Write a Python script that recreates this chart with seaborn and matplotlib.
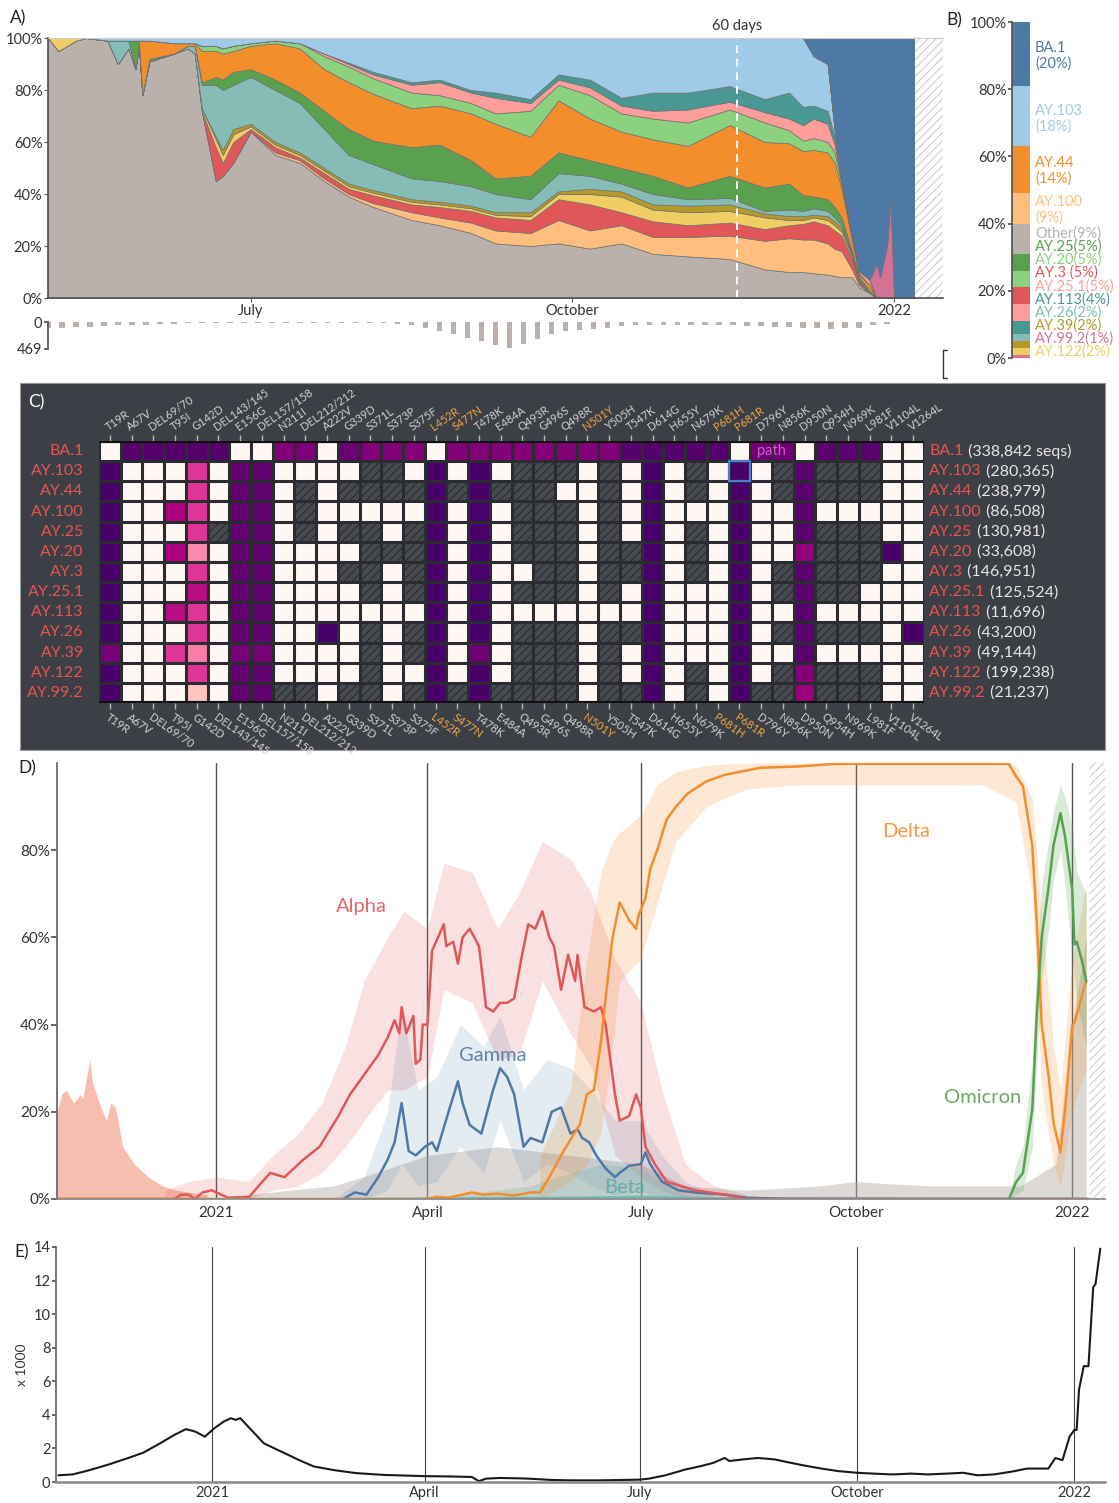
import numpy as np
import pandas as pd
import matplotlib
matplotlib.use("Agg")
import matplotlib.pyplot as plt
import matplotlib.dates as mdates
from matplotlib.patches import Rectangle
from matplotlib.lines import Line2D
import seaborn as sns

sns.set_theme(style="white")
plt.rcParams["font.family"] = ["Lato", "DejaVu Sans"]
plt.rcParams["hatch.linewidth"] = 0.7

W, H = 1119, 1503

# ---------------- data: panel A (lineage share, %) ----------------
a_dates = ["2021-05-04", "2021-05-07", "2021-05-12", "2021-05-15", "2021-05-21", "2021-05-24",
           "2021-05-27", "2021-05-29", "2021-05-30", "2021-05-31", "2021-06-02", "2021-06-09",
           "2021-06-13", "2021-06-15", "2021-06-17", "2021-06-21", "2021-06-23", "2021-06-26",
           "2021-07-01", "2021-07-08", "2021-07-15", "2021-07-22", "2021-07-29", "2021-08-05",
           "2021-08-16", "2021-08-24", "2021-09-02", "2021-09-09", "2021-09-19", "2021-09-27",
           "2021-10-06", "2021-10-15", "2021-10-24", "2021-11-03", "2021-11-15", "2021-11-25",
           "2021-12-02", "2021-12-06", "2021-12-09", "2021-12-13", "2021-12-15", "2021-12-17",
           "2021-12-20", "2021-12-22", "2021-12-25", "2021-12-27", "2021-12-28", "2021-12-30",
           "2021-12-31", "2022-01-01", "2022-01-07"]
share_other = [100, 95, 99, 100, 99, 90, 96, 88, 97, 78, 91, 94, 96, 94, 72, 45, 47, 52, 64, 55,
               52, 45, 39, 35, 30, 28, 25, 21, 20, 21, 19, 21, 17, 16, 15, 11, 10, 10, 9.5, 9,
               8.5, 8, 8, 4, 2, 0, 0, 0, 0, 0, 0]
share_ay100 = [0, 0, 0, 0, 0, 0, 0, 0, 0, 0, 0, 0, 0, 0, 0, 0, 0, 0, 0, 1,
               1, 1, 1, 1.5, 3, 3, 4, 5, 5, 9, 7, 7, 6.5, 7.5, 9, 11, 13, 12.5, 13, 12,
               10.5, 10, 3, 1, 0, 0, 0, 0, 0, 0, 0]
share_ay3 = [0, 0, 0, 0, 0, 0, 0, 0, 0, 0, 0, 0, 0, 0, 0, 13, 5, 8, 1, 2,
             1, 2, 2, 3, 3, 4, 4.5, 5, 5, 8, 10, 5, 6, 4.5, 5, 4.5, 5, 6, 7, 7,
             7, 6, 4, 1, 0, 0, 0, 0, 0, 0, 0]
share_ay122 = [0, 5, 1, 0, 0, 0, 0, 0, 0, 0, 0, 0, 0, 0, 1, 3, 3, 3, 1, 1,
               1, 1, 1, 1, 1, 1, 1, 1, 1.5, 2, 4, 6, 4.5, 5, 4.5, 4.5, 2, 1.5, 1.5, 2,
               2, 1.5, 1, 0.5, 0, 0, 0, 0, 0, 0, 0]
share_ay39 = [0, 0, 0, 0, 0, 0, 0, 0, 0, 0, 0, 0, 0, 0, 0, 1, 2, 2, 1, 1,
              1, 1, 1, 1, 1, 1, 1, 1, 1.5, 1, 2, 2, 2, 2.5, 2.5, 1.5, 1.5, 1.5, 1, 1.5,
              1.5, 1.5, 0.5, 0.5, 0, 0, 0, 0, 0, 0, 0]
share_ay26 = [0, 0, 0, 0, 0, 9, 3, 0, 0, 0, 0, 0, 1, 3, 9, 20, 23, 17, 18, 20,
              19, 15, 11, 10, 8, 8, 7.5, 7, 5, 7, 5, 3, 4, 2.5, 2.5, 1, 2.5, 2, 2.5, 2,
              1.5, 1, 0.5, 0, 0, 0, 0, 0, 0, 0, 0]
share_ay25 = [0, 0, 0, 0, 0, 0, 0, 11, 2, 0, 1, 0, 0, 0, 1, 3, 4, 5, 3, 4,
              4, 7, 10, 9, 12, 14, 10, 6, 9, 8, 6, 6, 7, 4.5, 8.5, 9, 10, 6, 4.5, 4.5,
              4, 3, 1, 1, 1, 0, 0, 0, 0, 0, 0]
share_ay44 = [0, 0, 0, 0, 0, 0, 0, 0, 0, 21, 7, 4, 1, 1, 12, 10, 10, 8, 9, 14,
              17, 16, 18, 18, 15, 15, 18, 21, 15, 20, 16, 14, 14, 16, 19.5, 17.5, 15.5, 17, 18, 18,
              17, 11, 4, 1, 2, 0, 0, 0, 0, 0, 0]
share_ay20 = [0, 0, 0, 0, 0, 0, 0, 0, 0, 0, 0, 0, 0, 0, 2, 2, 2, 2, 1, 1,
              2, 5, 6, 6, 6, 4, 4, 4, 10, 6, 9, 7, 8, 9, 6, 7.5, 5, 4, 4.5, 4,
              4, 1.5, 1, 0.5, 0, 0, 0, 0, 0, 0, 0]
share_ay251 = [0, 0, 0, 0, 0, 0, 0, 0, 0, 0, 0, 0, 0, 0, 0, 0, 0, 0, 0, 0,
               0, 1, 1, 1.5, 3, 5, 4, 6, 3, 2, 3, 3, 3, 5, 3, 4, 4.5, 6, 7.5, 7,
               3, 1, 0.6, 1, 2, 0, 0, 0, 0, 0, 0]
share_ay113 = [0, 0, 0, 0, 0, 0, 0, 0, 0, 0, 0, 0, 0, 0, 0, 0, 0, 0, 0, 0,
               0, 0, 0.5, 1, 1, 1, 1, 2, 1.5, 2, 3, 3, 7, 6.5, 6, 5, 10, 7, 5, 5,
               3, 0.5, 0, 0, 0, 0, 0, 0, 0, 0, 0]
share_ay103 = [0, 0, 0, 0, 1, 1, 1, 1, 1, 1, 1, 2, 2, 2, 3, 3, 4, 3, 2, 1,
               2, 6, 9.5, 13, 17, 16, 20, 21, 23.5, 14, 16, 23, 21, 21, 18.5, 23.5, 21, 26.5, 19, 18,
               2.6, 0.5, 0, 0, 0, 0, 0, 0, 0, 0, 0]
share_ay992 = [0, 0, 0, 0, 0, 0, 0, 0, 0, 0, 0, 0, 0, 0, 0, 0, 0, 0, 0, 0,
               0, 0, 0, 0, 0, 0, 0, 0, 0, 0, 0, 0, 0, 0, 0, 0, 0, 0, 0, 0,
               0, 0, 0, 0, 0, 13, 8, 20, 38, 0, 0]
share_ba1 = [0, 0, 0, 0, 0, 0, 0, 0, 0, 0, 0, 0, 0, 0, 0, 0, 0, 0, 0, 0,
             0, 0, 0, 0, 0, 0, 0, 0, 0, 0, 0, 0, 0, 0, 0, 0, 0, 0, 7, 10,
             35.4, 54.5, 76.4, 89.5, 93, 87, 92, 80, 62, 100, 100]

stack_names = ["Other", "AY.100", "AY.3", "AY.122", "AY.39", "AY.26", "AY.25", "AY.44",
               "AY.20", "AY.25.1", "AY.113", "AY.103", "AY.99.2", "BA.1"]
colors = {"Other": "#bab0ac", "AY.100": "#ffbe7d", "AY.3": "#e15759", "AY.122": "#f1ce63",
          "AY.39": "#b6992d", "AY.26": "#86bcb6", "AY.25": "#59a14f", "AY.44": "#f28e2b",
          "AY.20": "#8cd17d", "AY.25.1": "#ff9d9a", "AY.113": "#499894", "AY.103": "#a0cbe8",
          "AY.99.2": "#d37295", "BA.1": "#4e79a7"}

# daily sequence counts (every 4th day from 2021-05-04)
seq_counts = [110, 100, 90, 80, 70, 60, 55,
              45, 35, 30, 25, 20, 15, 15, 10,
              12, 15, 10, 15, 10, 12, 15, 20,
              20, 25, 30, 60, 110, 150, 200,
              280, 330, 400, 460, 380, 300, 200, 150,
              140, 120, 100, 70, 60, 55, 50, 55,
              50, 60, 55, 60, 65, 70, 80,
              90, 100, 110, 120, 110, 100, 60, 40]

# ---------------- panel B ----------------
b_names = ["AY.99.2", "AY.122", "AY.39", "AY.26", "AY.113", "AY.25.1", "AY.3", "AY.20",
           "AY.25", "Other", "AY.100", "AY.44", "AY.103", "BA.1"]
b_values = [1, 2, 2, 2, 4, 5, 5, 5, 5, 9, 9, 14, 18, 20]

# ---------------- panel C (mutation frequency) ----------------
mutations = ["T19R", "A67V", "DEL69/70", "T95I", "G142D", "DEL143/145", "E156G", "DEL157/158",
             "N211I", "DEL212/212", "A222V", "G339D", "S371L", "S373P", "S375F", "L452R", "S477N",
             "T478K", "E484A", "Q493R", "G496S", "Q498R", "N501Y", "Y505H", "T547K", "D614G",
             "H655Y", "N679K", "P681H", "P681R", "D796Y", "N856K", "D950N", "Q954H", "N969K",
             "L981F", "V1104L", "V1264L"]
highlight = ["L452R", "S477N", "N501Y", "P681H", "P681R"]
n = np.nan
lineages = ["BA.1", "AY.103", "AY.44", "AY.100", "AY.25", "AY.20", "AY.3", "AY.25.1", "AY.113",
            "AY.26", "AY.39", "AY.122", "AY.99.2"]
seq_totals = ["338,842 seqs", "280,365", "238,979", "86,508", "130,981", "33,608", "146,951",
              "125,524", "11,696", "43,200", "49,144", "199,238", "21,237"]
freq_ba1 = [0, .97, .97, .97, .97, .97, 0, 0, .85, .87, 0, .92, .85, .85, .85, 0, .85, .85, .85,
            .85, .85, .85, .85, .85, .96, .97, .97, .97, .97, 0, .9, .9, 0, .95, .95, .95, 0, 0]
freq_ay103 = [1, 0, 0, 0, .62, 0, .93, .93, 0, 0, 0, 0, n, n, 0, 1, 0, 1, 0, n, n, n, 0, n, 0, 1,
              0, n, 0, 1, 0, n, .95, n, n, n, 0, 0]
freq_ay44 = [1, 0, 0, 0, .62, 0, .93, .93, 0, n, 0, n, n, n, n, 1, n, 1, n, n, n, 0, 0, n, 0, 1,
             0, n, 0, 1, 0, n, .95, n, n, n, 0, 0]
freq_ay100 = [1, 0, 0, .75, .62, 0, .93, .93, 0, n, 0, 0, 0, 0, 0, 1, 0, 1, 0, n, n, n, 0, n, 0, 1,
              0, 0, 0, 1, 0, 0, .95, 0, 0, 0, 0, 0]
freq_ay25 = [1, 0, 0, 0, .62, n, .93, .93, 0, n, 0, n, n, 0, n, 1, 0, 1, 0, n, n, n, 0, n, 0, 1,
             0, n, 0, 1, 0, 0, .95, n, n, n, 0, 0]
freq_ay20 = [1, 0, 0, .75, .42, 0, .93, .93, 0, 0, 0, 0, n, n, n, 1, 0, 1, 0, n, n, n, 0, n, n, 1,
             0, n, 0, 1, 0, 0, .82, n, n, n, 1, 0]
freq_ay3 = [1, 0, 0, 0, .62, 0, .93, .93, 0, 0, 0, n, n, 0, n, 1, 0, 1, 0, 0, n, n, 0, n, n, 1,
            0, n, 0, 1, 0, n, .95, n, n, n, 0, 0]
freq_ay251 = [1, 0, 0, 0, .72, 0, .93, .93, 0, 0, 0, 0, n, 0, n, 1, 0, 1, 0, n, n, n, 0, n, 0, 1,
              0, 0, 0, 1, 0, n, .95, n, n, 0, 0, 0]
freq_ay113 = [1, 0, 0, .72, .62, 0, .93, .93, 0, 0, 0, 0, 0, 0, 0, 1, 0, 1, 0, 0, 0, 0, 0, 0, 0, 1,
              0, 0, 0, 1, 0, 0, .95, 0, 0, 0, 0, 0]
freq_ay26 = [1, 0, 0, 0, .62, 0, .93, .93, 0, 0, 1, 0, n, 0, n, 1, 0, 1, 0, n, n, n, 0, n, n, 1,
             0, 0, 0, 1, 0, n, .95, n, n, n, 0, 1]
freq_ay39 = [.88, 0, 0, .62, .45, 0, .88, .88, 0, 0, 0, 0, n, 0, n, 1, 0, .9, 0, n, n, n, 0, n, 0, 1,
             0, 0, 0, 1, 0, 0, .95, 0, 0, 0, 0, 0]
freq_ay122 = [1, 0, 0, 0, .62, 0, .93, .93, 0, 0, 0, 0, n, 0, 0, 1, 0, 1, 0, n, n, n, 0, n, 0, 1,
              0, n, 0, 1, 0, n, .85, n, n, n, 0, 0]
freq_ay992 = [1, 0, 0, 0, .25, 0, .93, .93, n, n, 0, n, n, 0, n, 1, n, 1, n, n, n, n, 0, n, n, 1,
              0, n, 0, 1, n, n, .8, n, n, n, 0, 0]

# ---------------- panel D (VOC share, %) ----------------
early_dates = ["2020-10-25", "2020-10-27", "2020-10-29", "2020-11-01", "2020-11-04", "2020-11-05",
               "2020-11-08", "2020-11-09", "2020-11-12", "2020-11-15", "2020-11-17", "2020-11-19",
               "2020-11-22", "2020-11-27", "2020-12-03", "2020-12-09", "2020-12-15", "2020-12-21",
               "2020-12-28"]
early_upper = [20, 24, 25, 22, 24, 23, 32, 27, 22, 18, 22, 21, 12, 8, 5, 3, 2, 1.5, 1]

alpha_dates = ["2020-10-25", "2020-12-14", "2020-12-17", "2020-12-20", "2020-12-23", "2020-12-26",
               "2020-12-30", "2021-01-03", "2021-01-06", "2021-01-15", "2021-01-19", "2021-01-24",
               "2021-01-30", "2021-02-07", "2021-02-14", "2021-02-22", "2021-02-27", "2021-03-03",
               "2021-03-07", "2021-03-11", "2021-03-15", "2021-03-18", "2021-03-20", "2021-03-21",
               "2021-03-23", "2021-03-26", "2021-03-27", "2021-03-29", "2021-03-30", "2021-04-01",
               "2021-04-03", "2021-04-08", "2021-04-09", "2021-04-12", "2021-04-14", "2021-04-16",
               "2021-04-19", "2021-04-23", "2021-04-26", "2021-04-29", "2021-05-02", "2021-05-05",
               "2021-05-08", "2021-05-11", "2021-05-14", "2021-05-17", "2021-05-20", "2021-05-23",
               "2021-05-25", "2021-05-28", "2021-05-31", "2021-06-03", "2021-06-04", "2021-06-07",
               "2021-06-11", "2021-06-14", "2021-06-16", "2021-06-18", "2021-06-20", "2021-06-22",
               "2021-06-26", "2021-06-29", "2021-07-01", "2021-07-03", "2021-07-07", "2021-07-12",
               "2021-07-18", "2021-07-24", "2021-08-06", "2021-08-15", "2022-01-08"]
alpha_vals = [0, 0, 1, 1, 0, 1.5, 2, 1, 0.3, 0.5, 3, 6, 5, 9, 12, 19, 24, 27, 30, 33,
              37, 41, 38, 44, 38, 42, 31, 32, 40, 40, 57, 63, 58, 59, 54, 60, 62, 58, 44, 43,
              45, 45, 46, 55, 63, 62, 66, 60, 58, 48, 56, 50, 56, 44, 43, 44, 40, 32, 24, 18,
              19, 24, 21, 12, 8, 4, 3, 2, 1, 0, 0]
alpha_band_dates = ["2020-12-10", "2020-12-20", "2021-01-01", "2021-01-15", "2021-01-25", "2021-02-05",
                    "2021-02-15", "2021-02-25", "2021-03-05", "2021-03-15", "2021-03-22", "2021-04-01",
                    "2021-04-08", "2021-04-20", "2021-05-01", "2021-05-10", "2021-05-20", "2021-06-01",
                    "2021-06-10", "2021-06-20", "2021-07-01", "2021-07-10", "2021-07-20", "2021-08-01",
                    "2021-08-15"]
alpha_upper = [2, 4, 5, 4, 10, 15, 22, 35, 50, 60, 66, 62, 77, 75, 62, 70, 82, 78, 70, 55, 45, 25, 8, 3, 1]
alpha_lower = [0, 0, 0, 0, 2, 3, 6, 12, 18, 25, 25, 28, 48, 45, 32, 33, 50, 38, 30, 10, 5, 2, 0, 0, 0]

gamma_dates = ["2021-02-24", "2021-03-01", "2021-03-06", "2021-03-11", "2021-03-15", "2021-03-18",
               "2021-03-21", "2021-03-24", "2021-03-27", "2021-03-31", "2021-04-03", "2021-04-05",
               "2021-04-10", "2021-04-14", "2021-04-16", "2021-04-19", "2021-04-24", "2021-04-29",
               "2021-05-02", "2021-05-05", "2021-05-08", "2021-05-12", "2021-05-15", "2021-05-20",
               "2021-05-24", "2021-05-28", "2021-06-01", "2021-06-04", "2021-06-06", "2021-06-09",
               "2021-06-12", "2021-06-16", "2021-06-20", "2021-06-22", "2021-06-26", "2021-07-01",
               "2021-07-03", "2021-07-05", "2021-07-10", "2021-07-17", "2021-07-24", "2021-08-06",
               "2021-08-15", "2021-09-01", "2022-01-08"]
gamma_vals = [0, 1.5, 1, 5, 9, 13, 22, 11, 10, 12, 13, 11, 20, 27, 22, 17, 15, 25, 30, 28,
              24, 12, 14, 13, 20, 21, 15, 16, 14, 13, 10, 7, 5, 6, 7.6, 8, 10.7, 8, 4, 2,
              1.5, 1, 0.3, 0, 0]
gamma_band_dates = ["2021-02-20", "2021-03-05", "2021-03-15", "2021-03-21", "2021-03-28", "2021-04-05",
                    "2021-04-15", "2021-04-25", "2021-05-02", "2021-05-12", "2021-05-22", "2021-06-01",
                    "2021-06-10", "2021-06-20", "2021-07-01", "2021-07-10", "2021-07-20", "2021-08-01"]
gamma_upper = [0, 5, 20, 44, 25, 28, 40, 35, 42, 25, 32, 30, 25, 18, 18, 10, 4, 1]
gamma_lower = [0, 0, 2, 8, 3, 4, 12, 6, 18, 4, 8, 6, 3, 1, 2, 0, 0, 0]

beta_dates = ["2021-03-01", "2021-06-01", "2021-07-01", "2021-08-01", "2022-01-07"]
beta_vals = [0, 0.3, 0.5, 0.2, 0]
beta_band_dates = ["2021-04-01", "2021-05-15", "2021-06-01", "2021-06-15", "2021-07-01",
                   "2021-07-10", "2021-07-20", "2021-08-01"]
beta_upper = [0, 3, 6, 8, 7, 4, 1, 0]

delta_dates = ["2020-10-25", "2021-03-31", "2021-04-05", "2021-04-10", "2021-04-20", "2021-04-25",
               "2021-05-01", "2021-05-08", "2021-05-15", "2021-05-19", "2021-05-23", "2021-05-28",
               "2021-06-02", "2021-06-05", "2021-06-08", "2021-06-11", "2021-06-14", "2021-06-17",
               "2021-06-19", "2021-06-22", "2021-06-24", "2021-06-26", "2021-06-29", "2021-06-30",
               "2021-07-03", "2021-07-05", "2021-07-08", "2021-07-12", "2021-07-16", "2021-07-21",
               "2021-07-29", "2021-08-06", "2021-08-21", "2021-09-06", "2021-09-22", "2021-10-08",
               "2021-10-24", "2021-11-24", "2021-12-05", "2021-12-08", "2021-12-11", "2021-12-15",
               "2021-12-17", "2021-12-19", "2021-12-22", "2021-12-24", "2021-12-27", "2021-12-29",
               "2022-01-01", "2022-01-02", "2022-01-07"]
delta_vals = [0, 0, 0.5, 0.3, 1.5, 1, 1.2, 0.8, 1.5, 1.5, 5, 10, 14.5, 17, 24, 25, 36, 51, 60, 68,
              66, 64, 62, 65, 69, 75.6, 80, 87, 90, 93, 95.8, 97.3, 98.9, 99.2, 99.8, 99.8, 99.8,
              99.8, 99.8, 97, 94.7, 81, 62.6, 40, 28, 17.6, 10.7, 20.6, 39.7, 40.5, 50]
delta_band_dates = ["2021-05-19", "2021-06-01", "2021-06-08", "2021-06-14", "2021-06-19", "2021-06-22",
                    "2021-07-01", "2021-07-08", "2021-07-16", "2021-07-29", "2021-08-15", "2021-09-06",
                    "2021-10-08", "2021-11-24", "2021-12-08", "2021-12-15", "2021-12-19", "2021-12-24",
                    "2021-12-27", "2022-01-01", "2022-01-07"]
delta_upper = [10, 25, 55, 75, 82, 84, 88, 95, 98, 99.5, 100, 100, 100, 100, 99.5, 92, 65, 35, 25, 55, 72]
delta_lower = [0, 4, 8, 15, 35, 50, 55, 68, 82, 90, 94, 95, 95, 95, 91, 70, 25, 8, 3, 20, 30]

omicron_dates = ["2021-12-05", "2021-12-08", "2021-12-11", "2021-12-15", "2021-12-17", "2021-12-19",
                 "2021-12-22", "2021-12-24", "2021-12-27", "2021-12-29", "2022-01-01", "2022-01-02",
                 "2022-01-03", "2022-01-05", "2022-01-07"]
omicron_vals = [0, 3.8, 6, 20.6, 43.5, 60, 71.8, 81, 88.5, 83, 71, 58.4, 59, 55, 50]
omicron_band_dates = ["2021-12-05", "2021-12-08", "2021-12-11", "2021-12-15", "2021-12-17", "2021-12-19",
                      "2021-12-22", "2021-12-24", "2021-12-27", "2021-12-29", "2022-01-01", "2022-01-03",
                      "2022-01-07"]
omicron_upper = [0, 8, 12, 32, 55, 72, 82, 89, 95, 92, 85, 75, 70]
omicron_lower = [0, 1, 2, 12, 32, 50, 62, 73, 80, 72, 55, 45, 35]

other_band_dates = ["2021-01-15", "2021-02-01", "2021-02-20", "2021-03-10", "2021-04-01", "2021-05-01",
                    "2021-06-01", "2021-07-01", "2021-07-20", "2021-08-15", "2021-09-15", "2021-10-01",
                    "2021-10-15", "2021-11-01", "2021-11-20", "2021-12-10", "2021-12-25", "2022-01-01",
                    "2022-01-07"]
other_upper = [1, 2, 3, 6, 10, 12, 10, 8, 3, 2, 3, 4, 3.5, 3, 3, 3, 8, 40, 60]

# ---------------- panel E (cases x 1000) ----------------
case_dates = ["2020-10-28", "2020-11-03", "2020-11-10", "2020-11-18", "2020-11-27", "2020-12-03",
              "2020-12-10", "2020-12-16", "2020-12-21", "2020-12-25", "2020-12-29", "2021-01-02",
              "2021-01-06", "2021-01-09", "2021-01-11", "2021-01-13", "2021-01-17", "2021-01-23",
              "2021-02-01", "2021-02-07", "2021-02-13", "2021-02-22", "2021-03-03", "2021-03-15",
              "2021-04-01", "2021-04-12", "2021-04-21", "2021-04-24", "2021-04-27", "2021-05-03",
              "2021-05-10", "2021-05-15", "2021-05-25", "2021-06-02", "2021-06-15", "2021-07-01",
              "2021-07-05", "2021-07-12", "2021-07-20", "2021-07-27", "2021-08-01", "2021-08-06",
              "2021-08-08", "2021-08-14", "2021-08-20", "2021-08-27", "2021-09-01", "2021-09-08",
              "2021-09-16", "2021-09-23", "2021-10-01", "2021-10-08", "2021-10-16", "2021-10-24",
              "2021-10-31", "2021-11-08", "2021-11-15", "2021-11-21", "2021-11-28", "2021-12-06",
              "2021-12-12", "2021-12-18", "2021-12-21", "2021-12-24", "2021-12-27", "2021-12-30",
              "2022-01-01", "2022-01-02", "2022-01-03", "2022-01-05", "2022-01-07", "2022-01-09",
              "2022-01-10", "2022-01-12"]
case_vals = [0.40, 0.45, 0.7, 1.03, 1.45, 1.75, 2.3, 2.8, 3.15, 3.0, 2.7, 3.2, 3.6, 3.8, 3.7, 3.8,
             3.2, 2.3, 1.7, 1.3, 0.93, 0.7, 0.53, 0.42, 0.35, 0.33, 0.3, 0.05, 0.2, 0.24, 0.22, 0.2,
             0.12, 0.1, 0.1, 0.14, 0.2, 0.4, 0.73, 0.95, 1.13, 1.43, 1.25, 1.35, 1.43, 1.35, 1.2,
             1.0, 0.8, 0.65, 0.55, 0.5, 0.45, 0.5, 0.45, 0.5, 0.55, 0.4, 0.45, 0.63, 0.8, 0.8, 0.8,
             1.43, 1.3, 2.7, 3.1, 3.1, 5.5, 6.9, 6.9, 11.6, 11.8, 13.9]

month_ticks = ["2021-01-01", "2021-04-01", "2021-07-01", "2021-10-01", "2022-01-01"]
month_labels = ["2021", "April", "July", "October", "2022"]


def rect(x0, y0, x1, y1):
    return [x0 / W, 1 - y1 / H, (x1 - x0) / W, (y1 - y0) / H]


def dn(d):
    return mdates.date2num(pd.to_datetime(d))


fig = plt.figure(figsize=(W / 100, H / 100), dpi=100)
fig.patch.set_facecolor("white")

# ================= Panel A =================
axA = fig.add_axes(rect(48, 38, 943, 298))
layers = [share_other, share_ay100, share_ay3, share_ay122, share_ay39, share_ay26, share_ay25,
          share_ay44, share_ay20, share_ay251, share_ay113, share_ay103, share_ay992, share_ba1]
axA.stackplot(dn(a_dates), *layers, colors=[colors[k] for k in stack_names],
              linewidth=0.5, edgecolor="#707070")
axA.set_xlim(dn("2021-05-04"), dn("2022-01-15"))
axA.set_ylim(0, 100)
axA.add_patch(Rectangle((dn("2022-01-07"), 0), 8, 100, facecolor="white", edgecolor="#c8c8c8",
                        hatch="////", lw=0))
axA.axvline(dn("2021-11-17"), color="white", ls=(0, (4, 3)), lw=1.4)
axA.text(dn("2021-11-17"), 104.6, "60 days", ha="center", va="center", fontsize=10.5,
         color="#333333", clip_on=False)
axA.set_yticks(range(0, 101, 20))
axA.set_yticklabels([f"{v}%" for v in range(0, 101, 20)])
axA.set_xticks(dn(["2021-07-01", "2021-10-01", "2022-01-01"]))
axA.set_xticklabels(["July", "October", "2022"])
axA.tick_params(axis="both", labelsize=10.5, labelcolor="#333333", length=3, width=0.8,
                color="#555555", pad=1, bottom=True, left=True)
for s in ["left", "bottom"]:
    axA.spines[s].set_color("#555555")
axA.spines["right"].set_visible(False)
axA.spines["top"].set_color("#cccccc")
axA.spines["top"].set_linewidth(0.8)

axN = fig.add_axes(rect(48, 322, 943, 349))
count_x = dn(pd.date_range("2021-05-04", periods=len(seq_counts), freq="4D"))
axN.bar(count_x, seq_counts, width=1.6, color="#bab0ac", lw=0)
axN.set_xlim(dn("2021-05-04"), dn("2022-01-15"))
axN.set_ylim(469, 0)
axN.set_yticks([0, 469])
axN.set_xticks([])
axN.tick_params(axis="y", labelsize=10.5, labelcolor="#333333", length=3, color="#555555",
                pad=1, left=True)
for s in ["top", "right", "bottom"]:
    axN.spines[s].set_visible(False)
axN.spines["left"].set_color("#555555")
fig.add_artist(Line2D([943 / W, 943 / W], [1 - 350 / H, 1 - 378 / H], color="#333333", lw=1))
fig.add_artist(Line2D([943 / W, 947 / W], [1 - 350 / H, 1 - 350 / H], color="#333333", lw=1))
fig.add_artist(Line2D([943 / W, 947 / W], [1 - 378 / H, 1 - 378 / H], color="#333333", lw=1))

# ================= Panel B =================
axB = fig.add_axes(rect(1012, 22, 1030, 358))
bottom = 0
for name, val in zip(b_names, b_values):
    axB.bar(0, val, bottom=bottom, width=1, color=colors[name], lw=0)
    bottom += val
axB.set_xlim(-0.5, 0.5)
axB.set_ylim(0, 100)
axB.set_xticks([])
axB.set_yticks(range(0, 101, 20))
axB.set_yticklabels([f"{v}%" for v in range(0, 101, 20)])
axB.tick_params(axis="y", labelsize=10.5, labelcolor="#333333", length=3, color="#555555",
                pad=1, left=True)
for s in ["top", "right", "bottom"]:
    axB.spines[s].set_visible(False)
axB.spines["left"].set_color("#555555")

b_labels = [("BA.1\n(20%)", "BA.1", 56), ("AY.103\n(18%)", "AY.103", 119),
            ("AY.44\n(14%)", "AY.44", 171), ("AY.100\n(9%)", "AY.100", 210),
            ("Other(9%)", "Other", 234), ("AY.25(5%)", "AY.25", 247), ("AY.20(5%)", "AY.20", 260),
            ("AY.3 (5%)", "AY.3", 273), ("AY.25.1(5%)", "AY.25.1", 287),
            ("AY.113(4%)", "AY.113", 300), ("AY.26(2%)", "AY.26", 313), ("AY.39(2%)", "AY.39", 326),
            ("AY.99.2(1%)", "AY.99.2", 339), ("AY.122(2%)", "AY.122", 352)]
for txt, key, ypx in b_labels:
    fig.text(1035 / W, 1 - ypx / H, txt, color=colors[key], fontsize=10.5, ha="left",
             va="center", linespacing=1.1)

# ================= Panel C =================
fig.add_artist(Rectangle((20 / W, 1 - 750 / H), 1085 / W, 367 / H, transform=fig.transFigure,
                         facecolor="#3c3f45", edgecolor="#9a9a9a", lw=0.8, zorder=-5))
axC = fig.add_axes(rect(99, 441, 924, 703))
axC.set_facecolor("none")
freq = pd.DataFrame([freq_ba1, freq_ay103, freq_ay44, freq_ay100, freq_ay25, freq_ay20, freq_ay3,
                     freq_ay251, freq_ay113, freq_ay26, freq_ay39, freq_ay122, freq_ay992],
                    index=lineages, columns=mutations)
axC.add_patch(Rectangle((0, 0), len(mutations), len(lineages), facecolor="#474a50",
                        edgecolor="#26282c", hatch="////", lw=0, zorder=0))
sns.heatmap(freq, ax=axC, cmap="RdPu", vmin=0, vmax=1, cbar=False, linewidths=0)
for i in range(len(mutations) + 1):
    axC.axvline(i, color="#2a2c31", lw=2.2, zorder=3)
for j in range(len(lineages) + 1):
    axC.axhline(j, color="#2a2c31", lw=2.2, zorder=3)
axC.axhline(0, color="#111111", lw=3, zorder=4)
axC.axhline(len(lineages), color="#111111", lw=3, zorder=4)
axC.add_patch(Rectangle((29, 1), 1, 1, fill=False, edgecolor="#4b7fd1", lw=1.6, zorder=6))
axC.text(30.97, 0.5, "path", color="#d655d6", fontsize=10.5, ha="center", va="center", zorder=7)

axC.set_xticks(np.arange(len(mutations)) + 0.5)
axC.set_xticklabels(mutations)
axC.set_yticks(np.arange(len(lineages)) + 0.5)
axC.set_yticklabels(lineages, rotation=0)
axC.tick_params(axis="x", top=True, labeltop=True, bottom=True, labelbottom=True, length=4,
                width=1, color="#b5b5b5", labelsize=8, labelcolor="#d2d2d2", pad=2)
axC.tick_params(axis="y", left=False, labelsize=11.5, labelcolor="#e8534f", pad=5)
for tick, m in zip(axC.xaxis.get_major_ticks(), mutations):
    col = "#f0a646" if m in highlight else "#d2d2d2"
    tick.label1.set(rotation=-35, ha="left", va="top", rotation_mode="anchor", color=col)
    tick.label2.set(rotation=35, ha="left", va="bottom", rotation_mode="anchor", color=col)
for s in axC.spines.values():
    s.set_visible(False)
for i, (lin, tot) in enumerate(zip(lineages, seq_totals)):
    t = axC.text(len(mutations) + 0.25, i + 0.5, lin, color="#e8534f", fontsize=11.5,
                 ha="left", va="center")
    axC.annotate(f" ({tot})", xy=(1, 0.5), xycoords=t, color="#e6e6e6", fontsize=11.5,
                 ha="left", va="center")

# ================= Panel D =================
axD = fig.add_axes(rect(57, 763, 1105, 1199))
axD.fill_between(dn(early_dates), 0, early_upper, color="#f4b3a0", alpha=0.85, lw=0)
axD.fill_between(dn(other_band_dates), 0, other_upper, color="#b5aca7", alpha=0.45, lw=0)
axD.fill_between(dn(alpha_band_dates), alpha_lower, alpha_upper, color="#e15759", alpha=0.18, lw=0)
axD.fill_between(dn(gamma_band_dates), gamma_lower, gamma_upper, color="#4e79a7", alpha=0.15, lw=0)
axD.fill_between(dn(beta_band_dates), 0, beta_upper, color="#76b7b2", alpha=0.3, lw=0)
axD.fill_between(dn(delta_band_dates), delta_lower, delta_upper, color="#f28e2b", alpha=0.2, lw=0)
axD.fill_between(dn(omicron_band_dates), omicron_lower, omicron_upper, color="#59a14f", alpha=0.22, lw=0)

sns.lineplot(x=dn(beta_dates), y=beta_vals, ax=axD, color="#76b7b2", lw=1.6, estimator=None)
sns.lineplot(x=dn(gamma_dates), y=gamma_vals, ax=axD, color="#4e79a7", lw=1.8, estimator=None)
sns.lineplot(x=dn(alpha_dates), y=alpha_vals, ax=axD, color="#e15759", lw=1.8, estimator=None)
sns.lineplot(x=dn(delta_dates), y=delta_vals, ax=axD, color="#f28e2b", lw=1.8, estimator=None)
sns.lineplot(x=dn(omicron_dates), y=omicron_vals, ax=axD, color="#59a14f", lw=1.8, estimator=None)

axD.add_patch(Rectangle((dn("2022-01-08"), 0), 7, 100, facecolor="white", edgecolor="#c8c8c8",
                        hatch="////", lw=0, zorder=0.5))
for d in month_ticks:
    axD.axvline(dn(d), color="#555555", lw=1.0, zorder=0.8)
axD.set_xlim(dn("2020-10-25"), dn("2022-01-15"))
axD.set_ylim(0, 100)
axD.set_yticks([0, 20, 40, 60, 80])
axD.set_yticklabels(["0%", "20%", "40%", "60%", "80%"])
axD.set_xticks(dn(month_ticks))
axD.set_xticklabels(month_labels)
axD.tick_params(axis="y", labelsize=11, labelcolor="#333333", length=4, color="#555555", pad=1,
                left=True)
axD.tick_params(axis="x", labelsize=11, labelcolor="#333333", length=0, pad=5)
axD.set_xlabel("")
axD.set_ylabel("")
for s in ["top", "right"]:
    axD.spines[s].set_visible(False)
axD.spines["left"].set_color("#666666")
axD.spines["bottom"].set_color("#8a8a8a")

voc_labels = [("Alpha", "2021-03-04", 67, "#e15759"), ("Gamma", "2021-04-29", 32.8, "#4e79a7"),
              ("Beta", "2021-06-24", 2.6, "#5fa8a2"), ("Delta", "2021-10-22", 84.4, "#f28e2b"),
              ("Omicron", "2021-11-24", 23.2, "#59a14f")]
for name, d, yv, c in voc_labels:
    axD.text(dn(d), yv, name, color=c, alpha=0.9, fontsize=14.5, ha="center", va="center")

# ================= Panel E =================
axE = fig.add_axes(rect(56, 1247, 1105, 1482))
sns.lineplot(x=dn(case_dates), y=case_vals, ax=axE, color="#1a1a1a", lw=1.5, estimator=None)
for d in month_ticks:
    axE.axvline(dn(d), color="#444444", lw=0.8, zorder=0.5)
axE.set_xlim(dn("2020-10-27"), dn("2022-01-14"))
axE.set_ylim(0, 14)
axE.set_yticks(range(0, 15, 2))
axE.set_xticks(dn(month_ticks))
axE.set_xticklabels(month_labels)
axE.tick_params(axis="y", labelsize=10.5, labelcolor="#333333", length=3, color="#555555", pad=1,
                left=True)
axE.tick_params(axis="x", labelsize=10.5, labelcolor="#333333", length=0, pad=3)
axE.set_xlabel("")
axE.set_ylabel("x 1000", fontsize=10, color="#333333", labelpad=4)
for s in ["top", "right"]:
    axE.spines[s].set_visible(False)
axE.spines["left"].set_color("#666666")
axE.spines["bottom"].set_color("#888888")
axE.spines["bottom"].set_linewidth(1.8)

# panel letters
for lab, xp, yp, c in [("A)", 10, 18, "#222222"), ("B)", 946, 20, "#222222"), ("C)", 28, 402, "#ffffff"),
                       ("D)", 18, 768, "#222222"), ("E)", 14, 1252, "#222222")]:
    fig.text(xp / W, 1 - yp / H, lab, fontsize=12.5, color=c, ha="left", va="center")

fig.savefig("out.png", dpi=100)
